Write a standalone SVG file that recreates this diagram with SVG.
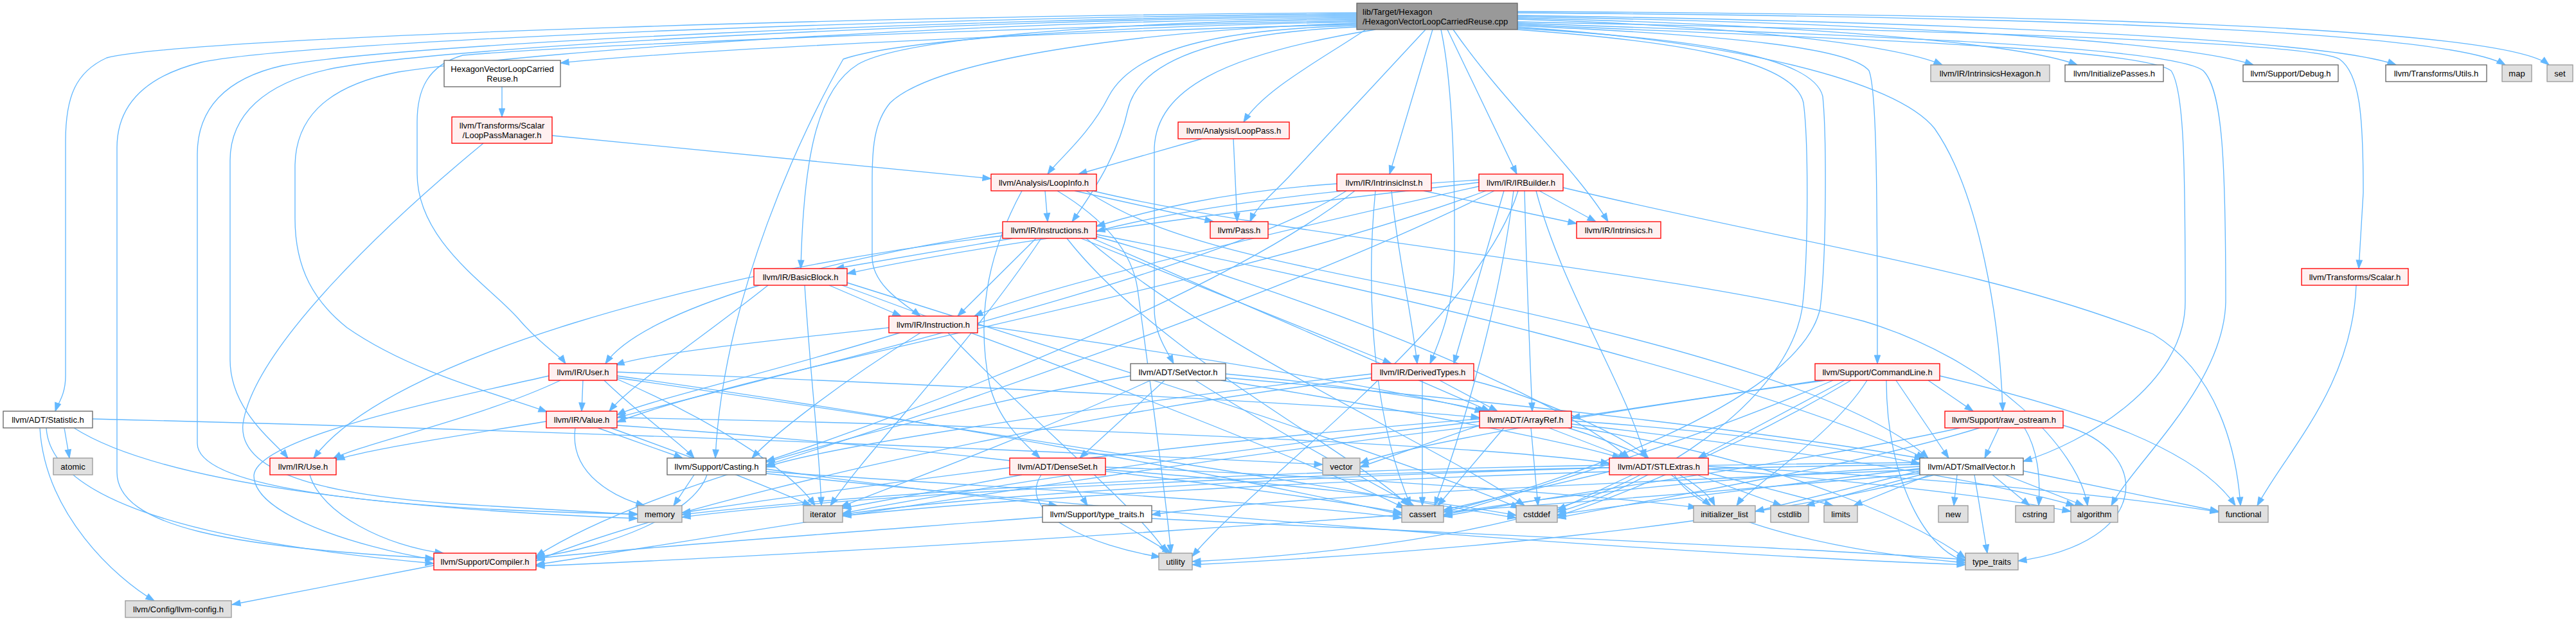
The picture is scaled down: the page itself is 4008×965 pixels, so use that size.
<svg xmlns="http://www.w3.org/2000/svg" width="4008" height="965" viewBox="0 0 4008 965">
<defs>
<style>
.e{fill:none;stroke:#63B8FF;stroke-width:1.33;marker-end:url(#a)}
.n rect{stroke-width:1.33}
.r rect{fill:#FFF0F0;stroke:#FF0000}
.g rect{fill:#E0E0E0;stroke:#999999}
.w rect{fill:#FFFFFF;stroke:#666666}
.m rect{fill:#999999;stroke:#666666}
text{font-family:"Liberation Sans",Arial,Helvetica,sans-serif;font-size:13px;fill:#000000;text-anchor:middle}
.l{text-anchor:start}
</style>
<marker id="a" markerUnits="userSpaceOnUse" markerWidth="14" markerHeight="10" refX="13" refY="4.67" orient="auto" overflow="visible"><path d="M0,0 L13,4.67 L0,9.33 z" fill="#63B8FF" stroke="#63B8FF" stroke-width="1"/></marker>
</defs>
<rect x="0" y="0" width="4008" height="965" fill="#FFFFFF"/>
<g id="connectors">
<path class="e" d="M2111,38 C1700,48 1100,75 872,98"/>
<path class="e" d="M2111,20 C1500,22 300,55 166,90 C118,112 102,150 102,220 L102,585 C102,615 90,628 86,640"/>
<path class="e" d="M2111,22 C1500,25 480,62 313,97 C230,118 182,160 182,230 L182,735 C182,820 360,852 675,869"/>
<path class="e" d="M2111,24 C1500,28 620,68 440,102 C350,122 307,170 307,240 L307,690 C307,770 680,795 992,800"/>
<path class="e" d="M2111,26 C1500,30 700,72 520,106 C410,128 358,180 358,250 L358,560 C358,640 430,690 448,713"/>
<path class="e" d="M2111,28 C1500,33 850,78 620,112 C500,135 459,190 459,260 L459,340 C459,420 490,470 540,510 C640,580 780,615 851,641"/>
<path class="e" d="M2111,32 C1600,42 900,70 720,86 C665,102 649,140 649,190 L649,270 C649,380 770,450 810,500 C845,540 870,552 880,566"/>
<path class="e" d="M2111,34 C1700,42 1400,62 1312,92 C1250,200 1125,460 1113,713"/>
<path class="e" d="M2111,30 C1700,34 1400,62 1335,100 C1270,140 1250,250 1246,418"/>
<path class="e" d="M2111,36 C1800,46 1460,88 1385,160 C1360,190 1357,230 1357,280 L1357,400 C1357,445 1410,475 1432,492"/>
<path class="e" d="M2111,40 C1900,45 1765,75 1725,150 C1695,210 1645,250 1630,271"/>
<path class="e" d="M2111,42 C1920,50 1775,85 1755,170 C1740,240 1700,300 1668,345"/>
<path class="e" d="M2125,46 C2060,90 1965,140 1935,190"/>
<path class="e" d="M2140,46 C1900,85 1800,140 1796,230 L1796,480 C1796,520 1815,545 1826,566"/>
<path class="e" d="M2218,46 L2010,270 C1985,298 1955,320 1945,345"/>
<path class="e" d="M2229,46 L2162,271"/>
<path class="e" d="M2242,46 C2258,120 2264,250 2263,400 C2262,480 2240,530 2225,566"/>
<path class="e" d="M2252,46 L2360,271"/>
<path class="e" d="M2261,46 C2340,160 2450,260 2502,345"/>
<path class="e" d="M2361,30 C2700,40 2950,70 3022,101"/>
<path class="e" d="M2361,28 C2850,40 3150,70 3232,101"/>
<path class="e" d="M2361,26 C2950,36 3400,65 3506,101"/>
<path class="e" d="M2361,24 C3050,34 3620,62 3728,101"/>
<path class="e" d="M2361,20 C3100,25 3800,45 3898,101"/>
<path class="e" d="M2361,18 C3150,22 3890,40 3966,101"/>
<path class="e" d="M2361,34 C2900,45 3590,62 3640,92 C3672,115 3677,180 3677,300 L3670,418"/>
<path class="e" d="M2361,36 C2900,55 3380,72 3428,110 C3458,140 3463,250 3463,470 C3460,600 3320,720 3285,787"/>
<path class="e" d="M2361,38 C2900,62 3330,75 3378,110 C3398,140 3400,250 3400,470 C3400,600 3240,690 3148,718"/>
<path class="e" d="M2361,40 C2700,55 2880,75 2908,110 C2920,140 2921,300 2921,566"/>
<path class="e" d="M2361,42 C2700,65 2950,125 3010,200 C3080,300 3112,500 3116,640"/>
<path class="e" d="M2361,44 C2600,58 2820,82 2836,150 C2842,210 2842,400 2832,480 C2800,630 2400,760 2246,797"/>
<path class="e" d="M2361,46 C2580,62 2790,88 2806,160 C2814,220 2814,400 2804,480 C2780,630 2560,760 2423,797"/>
<path class="e" d="M781,135 L781,182"/>
<path class="e" d="M859,211 L1542,278"/>
<path class="e" d="M752,223 C610,340 395,540 378,660 C370,740 520,772 720,785 C860,794 950,798 992,801"/>
<path class="e" d="M1870,216 L1678,271"/>
<path class="e" d="M1919,216 L1925,345"/>
<path class="e" d="M1626,297 L1630,345"/>
<path class="e" d="M1672,297 L1888,345"/>
<path class="e" d="M1590,297 C1545,380 1515,480 1540,600 C1555,660 1600,695 1618,713"/>
<path class="e" d="M1690,297 C1800,370 1950,400 2200,450 C2600,530 2900,620 3000,713"/>
<path class="e" d="M1700,297 C2000,370 2600,420 2900,500 C3100,560 3235,700 3248,787"/>
<path class="e" d="M1645,297 C1700,330 1760,380 1770,450 C1790,600 1815,780 1822,861"/>
<path class="e" d="M2165,297 C2175,400 2195,480 2205,566"/>
<path class="e" d="M2080,286 C1900,298 1780,330 1706,352"/>
<path class="e" d="M2215,297 L2453,348"/>
<path class="e" d="M2095,297 C1900,420 1300,560 960,650"/>
<path class="e" d="M2108,297 C1900,460 1400,650 1192,718"/>
<path class="e" d="M2140,297 C2125,450 2135,650 2195,787"/>
<path class="e" d="M2372,297 C2376,450 2380,550 2384,640"/>
<path class="e" d="M2390,297 C2430,450 2530,600 2560,713"/>
<path class="e" d="M2301,284 C1900,330 1500,385 1318,426"/>
<path class="e" d="M2340,297 L2262,566"/>
<path class="e" d="M2301,290 C1900,380 1600,455 1516,492"/>
<path class="e" d="M2301,280 C2000,298 1800,335 1706,360"/>
<path class="e" d="M2395,297 L2483,345"/>
<path class="e" d="M2312,297 C1900,450 1200,565 960,657"/>
<path class="e" d="M2325,297 C2000,460 1400,660 1192,724"/>
<path class="e" d="M2355,297 C2330,500 2265,700 2232,787"/>
<path class="e" d="M2432,292 C2800,380 3100,420 3350,520 C3450,580 3480,700 3486,787"/>
<path class="e" d="M2362,297 C2300,500 1950,750 1855,866"/>
<path class="e" d="M1575,371 L1300,418"/>
<path class="e" d="M1612,371 L1490,492"/>
<path class="e" d="M1560,362 C1300,400 1000,480 942,566"/>
<path class="e" d="M1560,367 C1100,420 600,560 488,713"/>
<path class="e" d="M1682,371 L2165,566"/>
<path class="e" d="M1700,371 L2318,640"/>
<path class="e" d="M1706,368 C2000,450 2400,600 2535,713"/>
<path class="e" d="M1706,365 C2100,440 2700,580 2995,713"/>
<path class="e" d="M1660,371 C1800,550 2100,700 2192,787"/>
<path class="e" d="M1690,371 C1900,550 2250,700 2372,787"/>
<path class="e" d="M1620,371 C1500,550 1350,700 1292,787"/>
<path class="e" d="M1290,444 L1402,492"/>
<path class="e" d="M1195,444 C1100,520 980,600 948,640"/>
<path class="e" d="M1252,444 C1262,600 1275,700 1278,787"/>
<path class="e" d="M1310,444 C1600,550 2000,700 2186,791"/>
<path class="e" d="M1318,440 C1700,560 2200,720 2364,791"/>
<path class="e" d="M1383,510 C1200,530 1010,550 958,568"/>
<path class="e" d="M1400,518 C1200,580 1000,625 960,646"/>
<path class="e" d="M1432,518 C1300,600 1200,680 1170,713"/>
<path class="e" d="M1521,506 C1900,560 2200,612 2308,641"/>
<path class="e" d="M1475,518 C1600,650 1780,800 1815,861"/>
<path class="e" d="M907,592 L905,640"/>
<path class="e" d="M872,592 C750,650 565,690 518,714"/>
<path class="e" d="M854,585 C700,620 400,680 395,740 C395,800 550,850 675,871"/>
<path class="e" d="M940,592 C1000,650 1060,690 1080,713"/>
<path class="e" d="M960,590 C1100,650 1230,730 1268,787"/>
<path class="e" d="M960,579 C1500,600 2100,630 2302,650"/>
<path class="e" d="M960,585 C1500,660 2000,760 2181,801"/>
<path class="e" d="M960,588 C1600,680 2200,780 2359,806"/>
<path class="e" d="M1812,592 L1680,713"/>
<path class="e" d="M1907,582 C2100,600 2250,625 2312,640"/>
<path class="e" d="M1900,592 C2200,640 2450,690 2522,713"/>
<path class="e" d="M1907,588 C2400,630 2800,680 2992,714"/>
<path class="e" d="M1759,585 C1400,650 1000,760 834,866"/>
<path class="e" d="M1860,592 C2000,680 2150,760 2200,787"/>
<path class="e" d="M1790,592 C1600,680 1380,760 1308,789"/>
<path class="e" d="M2240,592 L2330,640"/>
<path class="e" d="M2290,592 C2400,620 2530,680 2565,713"/>
<path class="e" d="M2134,582 C1800,620 1300,690 1192,727"/>
<path class="e" d="M2134,588 C1600,650 1000,800 834,873"/>
<path class="e" d="M2213,592 L2213,787"/>
<path class="e" d="M2832,592 L2445,650"/>
<path class="e" d="M2870,592 L2642,713"/>
<path class="e" d="M2950,592 L3032,713"/>
<path class="e" d="M3000,592 L3070,640"/>
<path class="e" d="M2840,592 C2500,640 2200,690 2116,721"/>
<path class="e" d="M2852,592 C2600,700 2350,770 2246,803"/>
<path class="e" d="M2880,592 C2700,700 2500,780 2423,803"/>
<path class="e" d="M2905,592 C2850,680 2720,760 2702,787"/>
<path class="e" d="M3018,585 C3250,640 3420,700 3478,787"/>
<path class="e" d="M2935,592 C2935,750 3000,860 3058,873"/>
<path class="e" d="M100,666 L108,713"/>
<path class="e" d="M144,652 C800,668 1600,700 2058,723"/>
<path class="e" d="M115,666 C250,752 600,792 992,807"/>
<path class="e" d="M72,666 C80,800 400,852 675,877"/>
<path class="e" d="M62,666 C70,800 180,900 240,935"/>
<path class="e" d="M850,656 C700,680 560,702 523,716"/>
<path class="e" d="M895,666 C885,740 960,775 1003,787"/>
<path class="e" d="M930,666 L1062,713"/>
<path class="e" d="M950,666 C1100,720 1200,760 1262,787"/>
<path class="e" d="M960,662 C1500,700 2000,765 2181,798"/>
<path class="e" d="M960,650 C1600,662 2300,692 2504,721"/>
<path class="e" d="M482,739 C500,800 600,850 690,861"/>
<path class="e" d="M2410,666 L2532,713"/>
<path class="e" d="M2445,655 C2700,672 2900,702 2987,722"/>
<path class="e" d="M2302,662 L2116,727"/>
<path class="e" d="M2340,666 L2237,787"/>
<path class="e" d="M2382,666 L2393,787"/>
<path class="e" d="M2440,666 C2550,700 2650,750 2668,787"/>
<path class="e" d="M2445,660 C2800,700 3100,750 3228,787"/>
<path class="e" d="M2445,664 C2800,720 3000,825 3058,869"/>
<path class="e" d="M2302,656 C1900,700 1500,762 1311,799"/>
<path class="e" d="M2302,652 C1800,692 1300,762 1061,798"/>
<path class="e" d="M2302,663 C1800,722 1200,822 834,879"/>
<path class="e" d="M2504,734 L2246,794"/>
<path class="e" d="M2540,739 L2423,794"/>
<path class="e" d="M2600,739 L2662,787"/>
<path class="e" d="M2640,739 L2772,787"/>
<path class="e" d="M2658,736 L2852,787"/>
<path class="e" d="M2658,730 C2900,750 3100,772 3222,796"/>
<path class="e" d="M2658,726 C3000,742 3300,772 3452,797"/>
<path class="e" d="M2504,728 C2000,742 1500,772 1311,801"/>
<path class="e" d="M2504,724 C2000,732 1400,762 1061,801"/>
<path class="e" d="M2605,739 C2650,820 2900,862 3058,876"/>
<path class="e" d="M2552,739 C2400,822 2100,862 1855,874"/>
<path class="e" d="M3045,739 L3040,787"/>
<path class="e" d="M3100,739 L3158,787"/>
<path class="e" d="M3120,739 L3242,787"/>
<path class="e" d="M3148,733 L3452,796"/>
<path class="e" d="M3072,739 L3092,861"/>
<path class="e" d="M3002,739 L2884,787"/>
<path class="e" d="M2995,737 L2810,787"/>
<path class="e" d="M2987,733 L2731,796"/>
<path class="e" d="M2987,729 C2800,752 2550,782 2423,801"/>
<path class="e" d="M2987,726 C2700,742 2400,772 2246,801"/>
<path class="e" d="M2987,723 C2300,732 1600,772 1311,803"/>
<path class="e" d="M2987,720 C2200,727 1400,762 1061,805"/>
<path class="e" d="M3010,739 C2700,822 2200,862 1855,879"/>
<path class="e" d="M2987,737 C2300,800 1300,862 834,881"/>
<path class="e" d="M2987,731 C2500,752 2000,772 1792,801"/>
<path class="e" d="M3110,666 L3088,713"/>
<path class="e" d="M3150,666 C3170,700 3175,740 3172,787"/>
<path class="e" d="M3050,666 C2800,722 2400,772 2246,804"/>
<path class="e" d="M3080,666 C2900,722 2600,772 2423,806"/>
<path class="e" d="M3210,662 C3350,700 3350,845 3140,873"/>
<path class="e" d="M1080,739 L1048,787"/>
<path class="e" d="M1100,739 C1080,800 950,852 834,867"/>
<path class="e" d="M1192,730 C1400,760 1600,780 1645,787"/>
<path class="e" d="M1192,734 C1600,762 2000,782 2181,806"/>
<path class="e" d="M1192,737 C1800,802 2600,862 3058,879"/>
<path class="e" d="M1590,739 L1311,791"/>
<path class="e" d="M1662,739 L1692,787"/>
<path class="e" d="M1620,739 C1580,800 1700,850 1805,867"/>
<path class="e" d="M1720,731 C2000,752 2250,782 2359,802"/>
<path class="e" d="M1720,727 C2100,742 2500,772 2640,790"/>
<path class="e" d="M1622,805 C1300,830 1000,852 834,869"/>
<path class="e" d="M1742,813 L1822,861"/>
<path class="e" d="M1792,807 C2300,832 2800,852 3058,871"/>
<path class="e" d="M675,880 L361,941"/>
<path class="e" d="M3666,444 C3660,600 3560,700 3512,787"/>
</g>
<g id="main" class="n m"><rect x="2111" y="5" width="250" height="41"/><text class="l" x="2120" y="22.5">lib/Target/Hexagon</text><text class="l" x="2120" y="37.5">/HexagonVectorLoopCarriedReuse.cpp</text></g>
<g id="hvlcr" class="n w"><rect x="691" y="94" width="181" height="41"/><text x="781.5" y="111.5">HexagonVectorLoopCarried</text><text x="781.5" y="126.5">Reuse.h</text></g>
<g id="looppassmanager" class="n r"><rect x="703" y="182" width="156" height="41"/><text x="781" y="199.5">llvm/Transforms/Scalar</text><text x="781" y="214.5">/LoopPassManager.h</text></g>
<g id="looppass" class="n r"><rect x="1833" y="190" width="173" height="26"/><text x="1919.5" y="207.5">llvm/Analysis/LoopPass.h</text></g>
<g id="loopinfo" class="n r"><rect x="1542" y="271" width="164" height="26"/><text x="1624" y="288.5">llvm/Analysis/LoopInfo.h</text></g>
<g id="intrinsicinst" class="n r"><rect x="2080" y="271" width="147" height="26"/><text x="2153.5" y="288.5">llvm/IR/IntrinsicInst.h</text></g>
<g id="irbuilder" class="n r"><rect x="2301" y="271" width="131" height="26"/><text x="2366.5" y="288.5">llvm/IR/IRBuilder.h</text></g>
<g id="instructions" class="n r"><rect x="1560" y="345" width="146" height="26"/><text x="1633" y="362.5">llvm/IR/Instructions.h</text></g>
<g id="pass" class="n r"><rect x="1883" y="345" width="90" height="26"/><text x="1928" y="362.5">llvm/Pass.h</text></g>
<g id="intrinsics" class="n r"><rect x="2453" y="345" width="131" height="26"/><text x="2518.5" y="362.5">llvm/IR/Intrinsics.h</text></g>
<g id="basicblock" class="n r"><rect x="1173" y="418" width="145" height="26"/><text x="1245.5" y="435.5">llvm/IR/BasicBlock.h</text></g>
<g id="scalar" class="n r"><rect x="3581" y="418" width="166" height="26"/><text x="3664" y="435.5">llvm/Transforms/Scalar.h</text></g>
<g id="intrinsicshexagon" class="n g"><rect x="3004" y="101" width="185" height="26"/><text x="3096.5" y="118.5">llvm/IR/IntrinsicsHexagon.h</text></g>
<g id="initializepasses" class="n w"><rect x="3213" y="101" width="153" height="26"/><text x="3289.5" y="118.5">llvm/InitializePasses.h</text></g>
<g id="debug" class="n w"><rect x="3490" y="101" width="148" height="26"/><text x="3564" y="118.5">llvm/Support/Debug.h</text></g>
<g id="utils" class="n w"><rect x="3712" y="101" width="157" height="26"/><text x="3790.5" y="118.5">llvm/Transforms/Utils.h</text></g>
<g id="map" class="n g"><rect x="3893" y="101" width="46" height="26"/><text x="3916" y="118.5">map</text></g>
<g id="set" class="n g"><rect x="3963" y="101" width="40" height="26"/><text x="3983" y="118.5">set</text></g>
<g id="instruction" class="n r"><rect x="1383" y="492" width="138" height="26"/><text x="1452" y="509.5">llvm/IR/Instruction.h</text></g>
<g id="user" class="n r"><rect x="854" y="566" width="106" height="26"/><text x="907" y="583.5">llvm/IR/User.h</text></g>
<g id="setvector" class="n w"><rect x="1759" y="566" width="148" height="26"/><text x="1833" y="583.5">llvm/ADT/SetVector.h</text></g>
<g id="derivedtypes" class="n r"><rect x="2134" y="566" width="159" height="26"/><text x="2213.5" y="583.5">llvm/IR/DerivedTypes.h</text></g>
<g id="commandline" class="n r"><rect x="2824" y="566" width="194" height="26"/><text x="2921" y="583.5">llvm/Support/CommandLine.h</text></g>
<g id="statistic" class="n w"><rect x="5" y="640" width="139" height="26"/><text x="74.5" y="657.5">llvm/ADT/Statistic.h</text></g>
<g id="value" class="n r"><rect x="850" y="640" width="110" height="26"/><text x="905" y="657.5">llvm/IR/Value.h</text></g>
<g id="arrayref" class="n r"><rect x="2302" y="640" width="143" height="26"/><text x="2373.5" y="657.5">llvm/ADT/ArrayRef.h</text></g>
<g id="raw_ostream" class="n r"><rect x="3026" y="640" width="184" height="26"/><text x="3118" y="657.5">llvm/Support/raw_ostream.h</text></g>
<g id="atomic" class="n g"><rect x="83" y="713" width="61" height="26"/><text x="113.5" y="730.5">atomic</text></g>
<g id="use" class="n r"><rect x="420" y="713" width="103" height="26"/><text x="471.5" y="730.5">llvm/IR/Use.h</text></g>
<g id="casting" class="n w"><rect x="1038" y="713" width="154" height="26"/><text x="1115" y="730.5">llvm/Support/Casting.h</text></g>
<g id="denseset" class="n r"><rect x="1571" y="713" width="149" height="26"/><text x="1645.5" y="730.5">llvm/ADT/DenseSet.h</text></g>
<g id="vector" class="n g"><rect x="2058" y="713" width="58" height="26"/><text x="2087" y="730.5">vector</text></g>
<g id="stlextras" class="n r"><rect x="2504" y="713" width="154" height="26"/><text x="2581" y="730.5">llvm/ADT/STLExtras.h</text></g>
<g id="smallvector" class="n w"><rect x="2987" y="713" width="161" height="26"/><text x="3067.5" y="730.5">llvm/ADT/SmallVector.h</text></g>
<g id="memory" class="n g"><rect x="992" y="787" width="69" height="26"/><text x="1026.5" y="804.5">memory</text></g>
<g id="iterator" class="n g"><rect x="1250" y="787" width="61" height="26"/><text x="1280.5" y="804.5">iterator</text></g>
<g id="support_type_traits" class="n w"><rect x="1622" y="787" width="170" height="26"/><text x="1707" y="804.5">llvm/Support/type_traits.h</text></g>
<g id="cassert" class="n g"><rect x="2181" y="787" width="65" height="26"/><text x="2213.5" y="804.5">cassert</text></g>
<g id="cstddef" class="n g"><rect x="2359" y="787" width="64" height="26"/><text x="2391" y="804.5">cstddef</text></g>
<g id="initializer_list" class="n g"><rect x="2635" y="787" width="96" height="26"/><text x="2683" y="804.5">initializer_list</text></g>
<g id="cstdlib" class="n g"><rect x="2755" y="787" width="59" height="26"/><text x="2784.5" y="804.5">cstdlib</text></g>
<g id="limits" class="n g"><rect x="2838" y="787" width="52" height="26"/><text x="2864" y="804.5">limits</text></g>
<g id="new" class="n g"><rect x="3016" y="787" width="46" height="26"/><text x="3039" y="804.5">new</text></g>
<g id="cstring" class="n g"><rect x="3136" y="787" width="60" height="26"/><text x="3166" y="804.5">cstring</text></g>
<g id="algorithm" class="n g"><rect x="3222" y="787" width="73" height="26"/><text x="3258.5" y="804.5">algorithm</text></g>
<g id="functional" class="n g"><rect x="3452" y="787" width="77" height="26"/><text x="3490.5" y="804.5">functional</text></g>
<g id="compiler" class="n r"><rect x="675" y="861" width="159" height="26"/><text x="754.5" y="878.5">llvm/Support/Compiler.h</text></g>
<g id="utility" class="n g"><rect x="1803" y="861" width="52" height="26"/><text x="1829" y="878.5">utility</text></g>
<g id="type_traits" class="n g"><rect x="3058" y="861" width="82" height="26"/><text x="3099" y="878.5">type_traits</text></g>
<g id="llvm_config" class="n g"><rect x="195" y="935" width="165" height="26"/><text x="277.5" y="952.5">llvm/Config/llvm-config.h</text></g>
</svg>
